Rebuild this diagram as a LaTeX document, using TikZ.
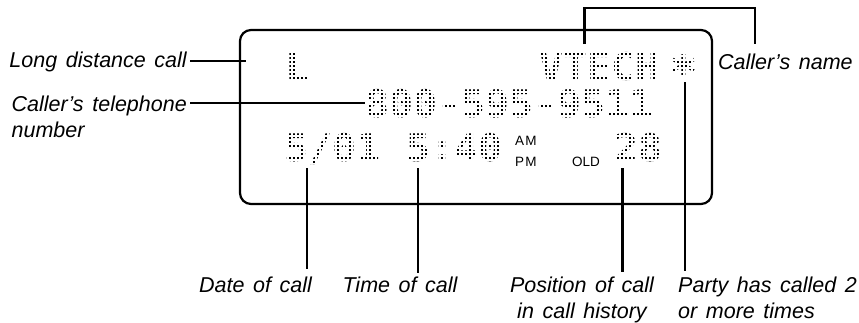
\documentclass[tikz,border=0pt]{standalone}
\usepackage{fontspec}
\newfontfamily\labelfam{Liberation Sans}
\newfontfamily\lcdfam[FakeStretch=1.05]{DejaVu Sans Mono}
\newcommand\labelfont{\labelfam\itshape\fontsize{21.5}{25.5}\selectfont\spaceskip=0.4em\relax}
\newcommand\lcdfont{\lcdfam\bfseries\fontsize{38}{40}\selectfont}
\newcommand\indfont{\labelfam\fontsize{13.5}{16}\selectfont}
\tikzset{
  lbl/.style={font=\labelfont, inner sep=0pt},
  lcd/.style={font=\lcdfont, inner sep=0pt, text=black},
  ind/.style={font=\indfont, inner sep=0pt},
  conn/.style={line width=2.2pt, line cap=butt},
  screenbox/.style={draw, line width=2.2pt, rounded corners=11pt, inner sep=0pt,
     minimum width=472pt, minimum height=174pt},
  dotgrid/.style={white, line width=1.8pt}
}
\begin{document}
\begin{tikzpicture}[x=1pt,y=-1pt]
\useasboundingbox (0,0) rectangle (859,322);
% screen
\node[screenbox] (screen) at (476,117) {};
% LCD characters
\node[lcd, anchor=base west] (ltr) at (285,80) {L};
\node[lcd, anchor=base west] (vt) at (539,80) {VTECH};
\node[lcd, anchor=base west, scale=1.2] (star) at (669,88) {*};
\node[lcd, anchor=base west] (phone) at (365,117) {800-595-9511};
\node[lcd, anchor=base west] (date) at (284,161) {5/01};
\node[lcd, anchor=base west] (time) at (406,161) {5:40};
\node[lcd, anchor=base west] (pos) at (614,161) {28};
% dot-matrix effect
\begin{scope}
\clip (ltr.south west) rectangle (ltr.north east)
      (vt.south west) rectangle (vt.north east)
      (star.south west) rectangle (star.north east)
      (phone.south west) rectangle (phone.north east)
      (date.south west) rectangle (date.north east)
      (time.south west) rectangle (time.north east)
      (pos.south west) rectangle (pos.north east);
\foreach \x in {280,284,...,704} \draw[dotgrid] (\x,40) -- (\x,170);
\foreach \y in {40,44,...,172} \draw[dotgrid] (276,\y) -- (704,\y);
\end{scope}
% indicators
\node[ind, anchor=base west] (am) at (515,145) {A\kern1.2pt M};
\node[ind, anchor=base west] (pm) at (515,166) {P\kern1.2pt M};
\node[ind, anchor=base west] (old) at (572,166) {OLD};
% labels
\node[lbl, anchor=base east] (long) at (187,67.5) {Long distance call};
\node[lbl, anchor=north east, align=left] (tel) at (187,96) {Caller’s telephone\\number};
\node[lbl, anchor=base west] (name) at (718,69.5) {Caller’s name};
\node[lbl, anchor=north] (datel) at (255.5,277) {Date of call};
\node[lbl, anchor=north] (timel) at (400,277) {Time of call};
\node[lbl, anchor=north, align=center] (posl) at (582,277) {Position of call\\in call history};
\node[lbl, anchor=north west, align=left] (party) at (678,277) {Party has called 2\\or more times};
% free ends
\coordinate (longend) at (246,61);
\coordinate (dtop) at (307,168);
\coordinate (ttop) at (418,168);
\coordinate (ptop) at (622.5,168);
\coordinate (stop) at (685,82);
\coordinate (nmL) at (584.5,44);
\coordinate (nmR) at (755,44);
% connectors
\draw[conn] ([xshift=3pt]long.east |- longend) -- (longend);
\path (tel.north east) ++(3,0) coordinate (telR);
\draw[conn] (telR |- phone.west) -- (phone.west);
\draw[conn, shorten >=8pt] (dtop) -- (dtop |- datel.north);
\draw[conn, shorten >=4pt] (ttop) -- (ttop |- timel.north);
\draw[conn, shorten >=5pt] (ptop) -- (ptop |- posl.north);
\draw[conn, shorten >=6pt] (stop) -- (stop |- party.north);
\draw[conn] (nmL) -- ++(0,-36) -| (nmR);
\end{tikzpicture}
\end{document}
